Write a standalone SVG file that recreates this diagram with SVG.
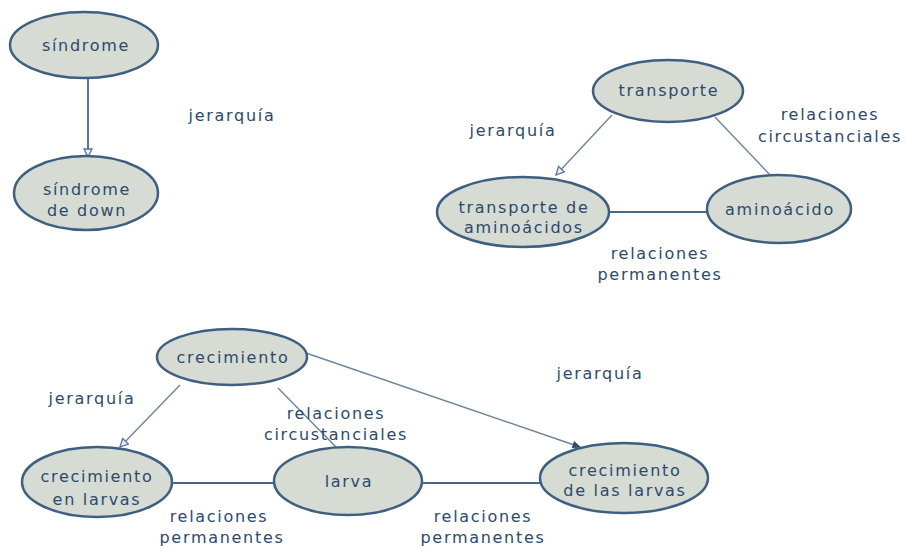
<svg xmlns="http://www.w3.org/2000/svg" width="906" height="549" viewBox="0 0 906 549">
<style>
.node ellipse{fill:#d6dbd4;stroke:#3f5f80;stroke-width:2.5}
text{font-family:"DejaVu Sans","Liberation Sans",sans-serif;font-size:16px;fill:#2c4a6b;letter-spacing:1.7px;text-anchor:middle}
.c line{stroke:#6d849d;stroke-width:1.4;fill:none}
.c line.h{stroke:#4a6786;stroke-width:1.8}
</style>
<defs>
<marker id="open" markerWidth="10" markerHeight="10" refX="9" refY="5" orient="auto" markerUnits="userSpaceOnUse">
<path d="M1,1 L9,5 L1,9 Z" fill="#e8ecf4" stroke="#6070a0" stroke-width="1.3"/>
</marker>
<marker id="filled" markerWidth="10" markerHeight="10" refX="9" refY="5" orient="auto" markerUnits="userSpaceOnUse">
<path d="M2,2 L9,5 L2,8 Z" fill="#2e4d70" stroke="#2e4d70" stroke-width="1"/>
</marker>
</defs>
<rect width="906" height="549" fill="#ffffff"/>
<g class="c" id="connectors">
<line class="h" x1="88" y1="78" x2="88" y2="157" marker-end="url(#open)"/>
<line x1="612" y1="115" x2="556" y2="175" marker-end="url(#open)"/>
<line x1="715" y1="117" x2="772" y2="177"/>
<line class="h" x1="609" y1="212" x2="707" y2="212"/>
<line x1="180" y1="385" x2="120" y2="447" marker-end="url(#open)"/>
<line x1="278" y1="388" x2="337" y2="448"/>
<line x1="306" y1="353" x2="580" y2="447" marker-end="url(#filled)"/>
<line class="h" x1="172" y1="483" x2="274" y2="483"/>
<line class="h" x1="422" y1="483" x2="541" y2="483"/>
</g>
<g class="node" id="n-sindrome"><ellipse cx="84" cy="45" rx="74" ry="33"/><text x="86" y="51">síndrome</text></g>
<g class="node" id="n-sindrome-down"><ellipse cx="86" cy="193" rx="72" ry="37"/><text x="87" y="195">síndrome</text><text x="87" y="216">de down</text></g>
<g class="node" id="n-transporte"><ellipse cx="668" cy="91" rx="75" ry="31"/><text x="669" y="96">transporte</text></g>
<g class="node" id="n-transporte-amino"><ellipse cx="523" cy="212" rx="86" ry="35"/><text x="524" y="213">transporte de</text><text x="524" y="233">aminoácidos</text></g>
<g class="node" id="n-aminoacido"><ellipse cx="779" cy="209" rx="72" ry="34"/><text x="780" y="215">aminoácido</text></g>
<g class="node" id="n-crecimiento"><ellipse cx="232" cy="357" rx="75" ry="28"/><text x="233" y="363">crecimiento</text></g>
<g class="node" id="n-crec-en-larvas"><ellipse cx="97" cy="482" rx="75" ry="35"/><text x="97" y="482">crecimiento</text><text x="97" y="505">en larvas</text></g>
<g class="node" id="n-larva"><ellipse cx="348" cy="481" rx="74" ry="34"/><text x="349" y="487">larva</text></g>
<g class="node" id="n-crec-de-larvas"><ellipse cx="624" cy="478" rx="84" ry="35"/><text x="625" y="476">crecimiento</text><text x="625" y="496">de las larvas</text></g>
<g id="labels">
<text x="232" y="121">jerarquía</text>
<text x="513" y="136">jerarquía</text>
<text x="830" y="120">relaciones</text>
<text x="830" y="142">circustanciales</text>
<text x="660" y="259">relaciones</text>
<text x="660" y="280">permanentes</text>
<text x="92" y="404">jerarquía</text>
<text x="336" y="419">relaciones</text>
<text x="336" y="440">circustanciales</text>
<text x="600" y="379">jerarquía</text>
<text x="219" y="522">relaciones</text>
<text x="222" y="543">permanentes</text>
<text x="483" y="522">relaciones</text>
<text x="483" y="543">permanentes</text>
</g>
</svg>
